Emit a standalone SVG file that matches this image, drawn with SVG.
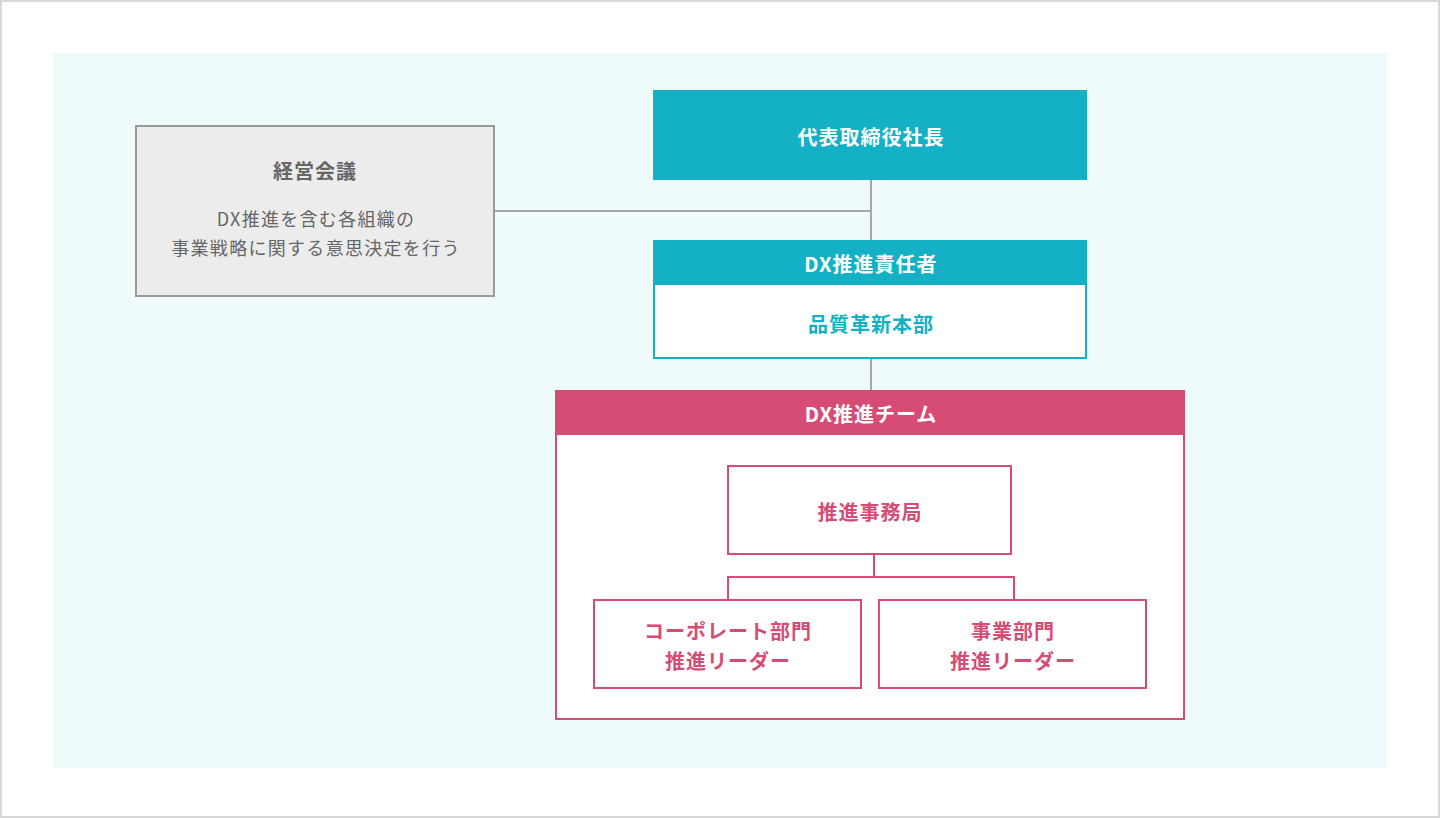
<svg xmlns="http://www.w3.org/2000/svg" width="1440" height="818" viewBox="0 0 1440 818">
<style>
text{font-family:"Noto Sans CJK JP","Noto Sans",sans-serif;text-anchor:middle;dominant-baseline:central}
.b{font-weight:700;font-size:20px;letter-spacing:1px}
.w{fill:#ffffff}
.t{fill:#14b1c6}
.p{fill:#d64c75}
.g{fill:#666666}
.d{font-size:18px;letter-spacing:1.3px}
.conn{fill:none;stroke-width:2}
</style>
<rect x="1" y="1" width="1438" height="816" fill="#ffffff" stroke="#d8d8d8" stroke-width="2"/>
<rect x="53" y="53" width="1334" height="715" fill="#effbfb"/>
<g id="keiei">
<rect x="136" y="126" width="358" height="170" fill="#ececec" stroke="#9a9a9a" stroke-width="2"/>
<text class="b g" x="315" y="170">経営会議</text>
<text class="g d" x="316" y="218">DX推進を含む各組織の</text>
<text class="g d" x="316" y="247">事業戦略に関する意思決定を行う</text>
</g>
<g id="ceo">
<rect x="653" y="90" width="434" height="90" fill="#14b1c6"/>
<text class="b w" x="871" y="136">代表取締役社長</text>
</g>
<g id="dx-lead">
<rect x="654" y="241" width="432" height="117" fill="#ffffff" stroke="#14b1c6" stroke-width="2"/>
<rect x="653" y="240" width="434" height="45" fill="#14b1c6"/>
<text class="b w" x="871" y="263">DX推進責任者</text>
<text class="b t" x="871" y="323">品質革新本部</text>
</g>
<g id="dx-team">
<rect x="556" y="391" width="628" height="328" fill="#ffffff" stroke="#d64c75" stroke-width="2"/>
<rect x="555" y="390" width="630" height="45" fill="#d64c75"/>
<text class="b w" x="871" y="413">DX推進チーム</text>
</g>
<g id="secretariat">
<rect x="728" y="466" width="283" height="88" fill="#ffffff" stroke="#d64c75" stroke-width="2"/>
<text class="b p" x="870" y="511">推進事務局</text>
</g>
<g id="corp-leader">
<rect x="594" y="600" width="267" height="88" fill="#ffffff" stroke="#d64c75" stroke-width="2"/>
<text class="b p" x="728" y="630">コーポレート部門</text>
<text class="b p" x="728" y="660">推進リーダー</text>
</g>
<g id="biz-leader">
<rect x="879" y="600" width="267" height="88" fill="#ffffff" stroke="#d64c75" stroke-width="2"/>
<text class="b p" x="1013" y="630">事業部門</text>
<text class="b p" x="1013" y="660">推進リーダー</text>
</g>
<g id="connectors">
<path class="conn" stroke="#a4a8a8" d="M495 211H871M871 180V240M871 359V390"/>
<path class="conn" stroke="#d64c75" d="M874 555V577M728 599V577H1014V599"/>
</g>
</svg>
